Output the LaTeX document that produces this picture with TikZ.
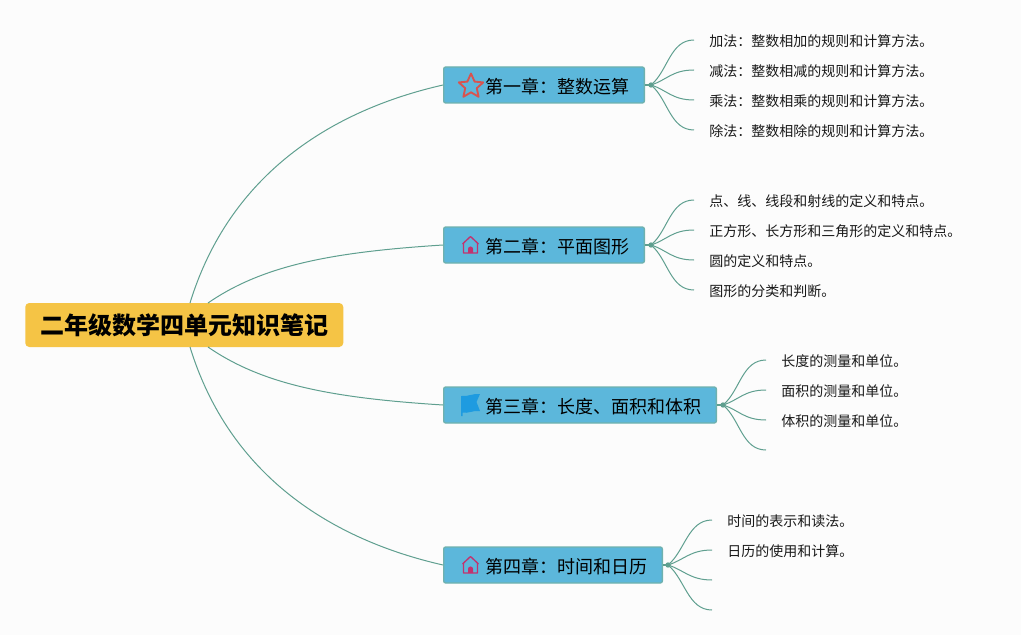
\documentclass[tikz,border=0pt]{standalone}
\usepackage{fontspec}
\setmainfont{Noto Sans CJK SC}
\newcommand{\fwc}{\symbol{"FF1A}}
\begin{document}
\begin{tikzpicture}[x=0.75pt,y=-0.75pt,
  rootbox/.style={draw=none,fill=rootfill,rounded corners=3pt,anchor=west,minimum width=238.5pt,minimum height=33pt,inner sep=0pt,font=\fontsize{18}{22}\selectfont\bfseries,text=black},
  chapbox/.style={draw=chapline,line width=1pt,fill=chapfill,rounded corners=1.5pt,anchor=west,minimum height=27pt,inner xsep=11.25pt,inner ysep=0pt,text height=15pt,text depth=2.2pt,font=\fontsize{13.5}{16}\selectfont,text=black},
  leaf/.style={anchor=west,inner xsep=11.25pt,inner ysep=0pt,text height=11.5pt,text depth=2pt,font=\fontsize{10.5}{13}\selectfont,text=black!90},
  link/.style={draw=linkc,line width=0.75pt},
  stub/.style={draw=linkc,line width=2pt},
  hub/.style={circle,fill=linkc,draw=none,minimum size=4pt,inner sep=0pt},
  twig/.style={draw=linkc,line width=0.75pt},
]
\definecolor{rootfill}{HTML}{F5C445}
\definecolor{chapfill}{HTML}{5CB7DB}
\definecolor{chapline}{HTML}{6FB1AE}
\definecolor{linkc}{HTML}{5F9F8F}
\definecolor{bgc}{HTML}{FCFCFC}
\definecolor{starc}{HTML}{D9534F}
\definecolor{housec}{HTML}{C2336F}
\definecolor{flagc}{HTML}{1E9BE0}
\fill[bgc] (0,0) rectangle (1021,635);
\useasboundingbox (0,0) rectangle (1021,635);

% root
\node[rootbox] (root) at (25,325) {二年级数学四单元知识笔记};
\coordinate (r1) at (190,303);
\coordinate (r2) at (208,303);
\coordinate (r3) at (208,347);
\coordinate (r4) at (190,347);

% chapters
\node[chapbox] (c1) at (443,85) {\hspace*{20pt}第一章\fwc 整数运算};
\node[chapbox] (c2) at (443,245) {\hspace*{20pt}第二章\fwc 平面图形};
\node[chapbox] (c3) at (443,405) {\hspace*{20pt}第三章\fwc 长度、面积和体积};
\node[chapbox] (c4) at (443,565) {\hspace*{20pt}第四章\fwc 时间和日历};

% root links
\draw[link] (r1) .. controls +(40,-130) and +(-110,25) .. (c1.west);
\draw[link] (r2) .. controls +(55,-38) and +(-110,7) .. (c2.west);
\draw[link] (r3) .. controls +(55,38) and +(-110,-7) .. (c3.west);
\draw[link] (r4) .. controls +(40,130) and +(-110,-25) .. (c4.west);

% hubs
\node[hub] (h1) at (651,85) {};
\node[hub] (h2) at (651,245) {};
\node[hub] (h3) at (723,405) {};
\node[hub] (h4) at (668,565) {};
\draw[stub] (c1.east) -- (h1.center);
\draw[stub] (c2.east) -- (h2.center);
\draw[stub] (c3.east) -- (h3.center);
\draw[stub] (c4.east) -- (h4.center);

% leaves
\node[leaf] (a1) at (694,40) {加法\fwc 整数相加的规则和计算方法。};
\node[leaf] (a2) at (694,70) {减法\fwc 整数相减的规则和计算方法。};
\node[leaf] (a3) at (694,100) {乘法\fwc 整数相乘的规则和计算方法。};
\node[leaf] (a4) at (694,130) {除法\fwc 整数相除的规则和计算方法。};
\node[leaf] (b1) at (694,200) {点、线、线段和射线的定义和特点。};
\node[leaf] (b2) at (694,230) {正方形、长方形和三角形的定义和特点。};
\node[leaf] (b3) at (694,260) {圆的定义和特点。};
\node[leaf] (b4) at (694,290) {图形的分类和判断。};
\node[leaf] (d1) at (766,360) {长度的测量和单位。};
\node[leaf] (d2) at (766,390) {面积的测量和单位。};
\node[leaf] (d3) at (766,420) {体积的测量和单位。};
\coordinate (d4) at (766,450);
\node[leaf] (e1) at (712,520) {时间的表示和读法。};
\node[leaf] (e2) at (712,550) {日历的使用和计算。};
\coordinate (e3) at (712,580);
\coordinate (e4) at (712,610);

\foreach \h/\p/\q/\r/\s in {h1/a1.west/a2.west/a3.west/a4.west,h2/b1.west/b2.west/b3.west/b4.west,h3/d1.west/d2.west/d3.west/d4,h4/e1.west/e2.west/e3/e4}{
  \draw[twig] (\h.center) .. controls +(17,-14) and +(-24,0) .. (\p);
  \draw[twig] (\h.center) .. controls +(16,-5) and +(-22,0) .. (\q);
  \draw[twig] (\h.center) .. controls +(16,5) and +(-22,0) .. (\r);
  \draw[twig] (\h.center) .. controls +(17,14) and +(-24,0) .. (\s);
}

% icons
\draw[starc,line width=1.4pt,line join=round]
  (471,73.5) -- (474.6,81.6) -- (483.2,82.4) -- (476.8,88.2) -- (478.6,96.8) -- (471,92.3) -- (463.4,96.8) -- (465.2,88.2) -- (458.8,82.4) -- (467.4,81.6) -- cycle;
\foreach \yy in {245,565}{
  \draw[housec,line width=1pt,line join=round]
    (462.5,\yy-1) -- (470.5,\yy-8.5) -- (478.5,\yy-1) (463.5,\yy-2) -- (463.5,\yy+8) -- (477.5,\yy+8) -- (477.5,\yy-2);
  \fill[housec] (468,\yy+8) -- (468,\yy+4) arc[start angle=180,end angle=0,radius=1.9pt] -- (473,\yy+8) -- cycle;
}
\fill[flagc] (461,396) .. controls (467,397) and (474,393) .. (480,394) -- (476.5,402) -- (480,411) .. controls (474,410) and (467,414) .. (462.5,412.5) -- (462.5,416) -- (461,416) -- cycle;
\end{tikzpicture}
\end{document}
